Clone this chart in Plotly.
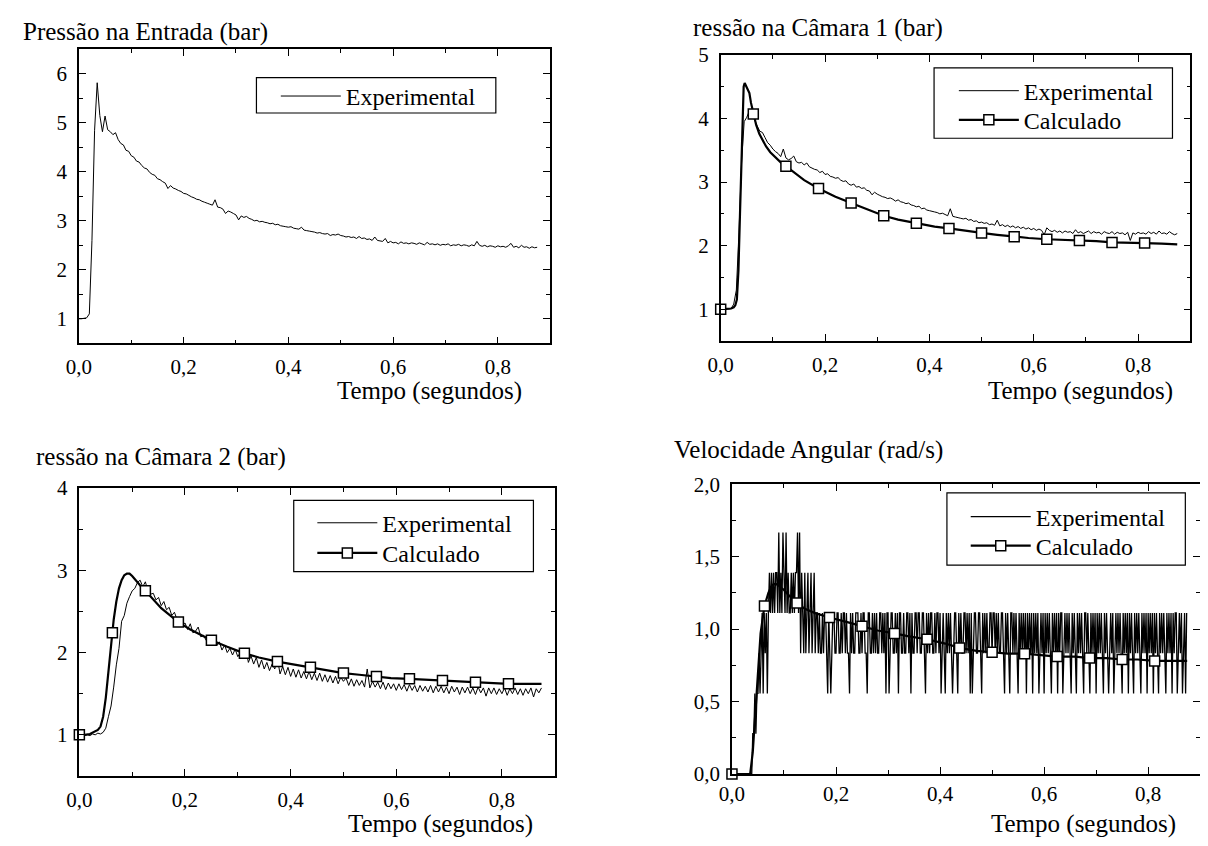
import numpy as np
import plotly.graph_objects as go

W, H = 1208, 846
OFFX, OFFY = 12, 9  # the page margin shifts the figure on screen
FONT = '"Liberation Serif", "Times New Roman", serif'

# =========================
# DATA
# =========================
DT = 0.005        # pressure sampling step (s)
DT_VEL = 0.002    # velocity sampling step (s)
VEL_STEP = 0.2778 # encoder resolution (rad/s)

entrada_exp = [
    1.00, 1.00, 1.01, 1.02, 1.10, 2.60, 4.85, 5.82, 5.15, 4.82,
    5.14, 4.86, 4.82, 4.76, 4.80, 4.66, 4.58, 4.55, 4.44, 4.42,
    4.33, 4.30, 4.22, 4.20, 4.13, 4.08, 4.06, 3.99, 3.95, 3.93,
    3.86, 3.84, 3.80, 3.77, 3.66, 3.72, 3.67, 3.65, 3.62, 3.60,
    3.56, 3.55, 3.52, 3.49, 3.47, 3.44, 3.43, 3.40, 3.38, 3.36,
    3.34, 3.32, 3.43, 3.28, 3.27, 3.24, 3.15, 3.20, 3.18, 3.15,
    3.12, 3.02, 3.10, 3.07, 3.09, 3.05, 3.03, 3.00, 3.01, 2.98,
    2.99, 2.97, 2.96, 2.94, 2.95, 2.92, 2.93, 2.90, 2.89, 2.88,
    2.87, 2.88, 2.85, 2.84, 2.83, 2.87, 2.81, 2.80, 2.79, 2.78,
    2.77, 2.75, 2.76, 2.74, 2.73, 2.74, 2.70, 2.72, 2.71, 2.73,
    2.70, 2.69, 2.67, 2.68, 2.66, 2.67, 2.64, 2.68, 2.64, 2.65,
    2.62, 2.63, 2.60, 2.67, 2.60, 2.59, 2.58, 2.64, 2.55, 2.58,
    2.55, 2.56, 2.53, 2.57, 2.54, 2.55, 2.53, 2.55, 2.54, 2.52,
    2.55, 2.53, 2.51, 2.56, 2.52, 2.53, 2.51, 2.53, 2.50, 2.52,
    2.51, 2.53, 2.49, 2.51, 2.50, 2.52, 2.49, 2.51, 2.50, 2.48,
    2.51, 2.49, 2.58, 2.50, 2.48, 2.50, 2.47, 2.49, 2.48, 2.46,
    2.49, 2.47, 2.48, 2.46, 2.49, 2.54, 2.46, 2.48, 2.45, 2.50,
    2.46, 2.47, 2.44, 2.47, 2.45, 2.46,
]

camara1_exp = [
    1.00, 0.99, 1.00, 1.00, 1.01, 1.08, 1.30, 2.20, 3.30, 3.95,
    4.02, 4.12, 4.08, 3.98, 3.88, 3.80, 3.78, 3.70, 3.62, 3.58,
    3.52, 3.48, 3.45, 3.40, 3.52, 3.38, 3.35, 3.37, 3.41, 3.32,
    3.30, 3.31, 3.27, 3.30, 3.24, 3.22, 3.20, 3.19, 3.15, 3.17,
    3.12, 3.13, 3.09, 3.08, 3.06, 3.07, 3.03, 3.01, 3.02, 2.97,
    2.95, 2.97, 2.92, 2.93, 2.90, 2.91, 2.87, 2.86, 2.80, 2.84,
    2.81, 2.79, 2.77, 2.76, 2.74, 2.75, 2.73, 2.70, 2.72, 2.69,
    2.68, 2.66, 2.67, 2.64, 2.63, 2.61, 2.62, 2.58, 2.59, 2.56,
    2.55, 2.54, 2.53, 2.52, 2.50, 2.51, 2.49, 2.47, 2.58, 2.46,
    2.45, 2.44, 2.43, 2.42, 2.43, 2.40, 2.41, 2.38, 2.39, 2.36,
    2.37, 2.35, 2.36, 2.33, 2.34, 2.32, 2.40, 2.31, 2.33, 2.30,
    2.32, 2.29, 2.31, 2.28, 2.30, 2.27, 2.29, 2.26, 2.28, 2.25,
    2.27, 2.24, 2.26, 2.24, 2.17, 2.28, 2.24, 2.22, 2.24, 2.21,
    2.23, 2.20, 2.23, 2.21, 2.22, 2.19, 2.25, 2.20, 2.22, 2.19,
    2.21, 2.23, 2.19, 2.22, 2.20, 2.21, 2.18, 2.22, 2.20, 2.19,
    2.22, 2.18, 2.21, 2.19, 2.20, 2.17, 2.21, 2.08, 2.20, 2.18,
    2.21, 2.19, 2.20, 2.18, 2.22, 2.19, 2.21, 2.18, 2.23, 2.19,
    2.20, 2.18, 2.22, 2.19, 2.17, 2.19,
]

camara1_calc_t = [
    0, 0.01, 0.02, 0.025, 0.028, 0.031, 0.034, 0.037, 0.04, 0.042,
    0.044, 0.046, 0.048, 0.05, 0.052, 0.055, 0.058, 0.0625, 0.068, 0.074,
    0.08, 0.087, 0.095, 0.105, 0.115, 0.125, 0.14, 0.16, 0.1875, 0.22,
    0.25, 0.28, 0.3125, 0.34, 0.375, 0.41, 0.4375, 0.47, 0.5, 0.53,
    0.5625, 0.59, 0.625, 0.66, 0.6875, 0.72, 0.75, 0.78, 0.8125, 0.845,
    0.875,
]
camara1_calc = [
    1.00, 1.00, 1.01, 1.03, 1.06, 1.15, 1.60, 2.50, 3.40, 4.00,
    4.50, 4.56, 4.52, 4.48, 4.46, 4.40, 4.25, 4.07, 3.90, 3.76,
    3.66, 3.56, 3.47, 3.39, 3.31, 3.25, 3.15, 3.03, 2.90, 2.77,
    2.67, 2.57, 2.47, 2.41, 2.35, 2.30, 2.27, 2.23, 2.20, 2.17,
    2.14, 2.12, 2.10, 2.09, 2.08, 2.07, 2.05, 2.05, 2.04, 2.03,
    2.02,
]

camara2_exp = [
    1.00, 0.98, 0.99, 1.00, 0.99, 1.01, 1.00, 1.02, 1.01, 1.03,
    1.08, 1.22, 1.35, 1.58, 1.85, 2.05, 2.38, 2.45, 2.60, 2.68,
    2.75, 2.78, 2.85, 2.88, 2.80, 2.86, 2.74, 2.71, 2.72, 2.64,
    2.67, 2.57, 2.62, 2.52, 2.55, 2.45, 2.49, 2.40, 2.42, 2.33,
    2.36, 2.28, 2.35, 2.24, 2.26, 2.31, 2.19, 2.21, 2.15, 2.20,
    2.11, 2.14, 2.08, 2.13, 2.03, 2.09, 2.00, 2.05, 1.97, 2.04,
    1.95, 2.00, 1.93, 2.05, 1.88, 1.96, 1.86, 1.94, 1.82, 1.91,
    1.80, 1.88, 1.78, 1.86, 1.80, 1.93, 1.74, 1.83, 1.73, 1.82,
    1.71, 1.80, 1.70, 1.79, 1.69, 1.77, 1.68, 1.77, 1.67, 1.75,
    1.66, 1.75, 1.65, 1.73, 1.64, 1.72, 1.63, 1.71, 1.62, 1.70,
    1.65, 1.69, 1.60, 1.68, 1.59, 1.67, 1.60, 1.66, 1.58, 1.80,
    1.57, 1.65, 1.58, 1.64, 1.56, 1.64, 1.55, 1.63, 1.56, 1.62,
    1.54, 1.62, 1.55, 1.61, 1.53, 1.61, 1.54, 1.60, 1.52, 1.60,
    1.53, 1.59, 1.52, 1.60, 1.51, 1.59, 1.52, 1.59, 1.51, 1.58,
    1.50, 1.59, 1.52, 1.58, 1.49, 1.58, 1.51, 1.58, 1.50, 1.57,
    1.49, 1.58, 1.51, 1.57, 1.47, 1.57, 1.50, 1.57, 1.49, 1.56,
    1.50, 1.57, 1.48, 1.56, 1.50, 1.57, 1.49, 1.56, 1.48, 1.56,
    1.50, 1.57, 1.46, 1.56, 1.51, 1.57,
]

camara2_calc_t = [
    0, 0.01, 0.02, 0.03, 0.035, 0.04, 0.045, 0.05, 0.055, 0.06,
    0.0625, 0.065, 0.07, 0.075, 0.08, 0.085, 0.09, 0.095, 0.1, 0.105,
    0.11, 0.115, 0.12, 0.125, 0.14, 0.155, 0.17, 0.1875, 0.21, 0.23,
    0.25, 0.28, 0.3125, 0.34, 0.375, 0.41, 0.4375, 0.47, 0.5, 0.53,
    0.5625, 0.59, 0.625, 0.66, 0.6875, 0.72, 0.75, 0.78, 0.8125, 0.845,
    0.875,
]
camara2_calc = [
    1.00, 1.00, 1.01, 1.05, 1.06, 1.10, 1.22, 1.45, 1.77, 2.10,
    2.24, 2.40, 2.62, 2.78, 2.88, 2.94, 2.96, 2.96, 2.93, 2.89,
    2.85, 2.81, 2.78, 2.75, 2.64, 2.54, 2.46, 2.37, 2.28, 2.21,
    2.15, 2.07, 1.99, 1.94, 1.89, 1.85, 1.82, 1.78, 1.75, 1.73,
    1.71, 1.69, 1.68, 1.67, 1.66, 1.65, 1.64, 1.63, 1.62, 1.62,
    1.62,
]

# quantised encoder readings, one digit per sample (value = digit * VEL_STEP)
vel_levels = [
    "00000000000000000000112122323424342454545455464546",
    "54645445454556463543534534534534434334344324323443",
    "34433434434332434334443343443324433434343344343424",
    "42344334342443343344342433443443344324343443343443",
    "42343243434323443243433443434242344334432434343344",
    "34434343344324343244343432434343424343424343423434",
    "24343432434342434423434343243432434343244343243434",
    "24343432434323434234343432434342434324343432434342",
    "43434243432434343243434243442343423424",
]

vel_calc_t = [
    0, 0.02, 0.035, 0.04, 0.045, 0.05, 0.055, 0.0625, 0.07, 0.075,
    0.08, 0.085, 0.09, 0.1, 0.11, 0.125, 0.14, 0.16, 0.1875, 0.22,
    0.25, 0.28, 0.3125, 0.34, 0.375, 0.41, 0.4375, 0.47, 0.5, 0.53,
    0.5625, 0.59, 0.625, 0.66, 0.6875, 0.72, 0.75, 0.78, 0.8125, 0.845,
    0.875,
]
vel_calc = [
    0.00, 0.00, 0.00, 0.15, 0.42, 0.72, 0.97, 1.16, 1.25, 1.29,
    1.31, 1.31, 1.30, 1.27, 1.23, 1.18, 1.14, 1.11, 1.08, 1.05,
    1.02, 0.99, 0.97, 0.95, 0.93, 0.90, 0.87, 0.85, 0.84, 0.83,
    0.83, 0.82, 0.81, 0.81, 0.80, 0.80, 0.79, 0.79, 0.78, 0.78,
    0.78,
]


# =========================
# HELPERS
# =========================
def px_x(p):
    return (p - OFFX) / W


def px_y(p):
    return 1 - (p - OFFY) / H


def marker_points(ts):
    # a square every 1/16 s on the computed curve
    idx = []
    for i, t in enumerate(ts):
        k = t / 0.0625
        if t < 0.85 and abs(k - round(k)) < 1e-9:
            idx.append(i)
    return idx


def exp_trace(t, y, xa, ya, leg, width=1.0):
    return go.Scatter(x=t, y=y, mode="lines", name="Experimental",
                      line=dict(color="black", width=width, simplify=False),
                      xaxis=xa, yaxis=ya, legend=leg, cliponaxis=False)


def calc_trace(t, y, xa, ya, leg):
    return go.Scatter(x=t, y=y, mode="lines+markers", name="Calculado",
                      line=dict(color="black", width=2.2),
                      marker=dict(symbol="square", size=10, color="white",
                                  line=dict(color="black", width=1.5)),
                      selectedpoints=marker_points(t),
                      selected=dict(marker=dict(opacity=1)),
                      unselected=dict(marker=dict(opacity=0)),
                      xaxis=xa, yaxis=ya, legend=leg, cliponaxis=False)


def axis(domain, rng, dtick, minor, fmt, standoff, anchor):
    return dict(domain=domain, range=rng, dtick=dtick, tick0=0, tickformat=fmt,
                ticks="inside", ticklen=7, tickwidth=1.3, tickcolor="black",
                showline=True, linecolor="black", linewidth=1.5, mirror="allticks",
                showgrid=False, zeroline=False, anchor=anchor,
                ticklabelstandoff=standoff,
                minor=dict(dtick=minor, tick0=0, ticks="inside", ticklen=4,
                           tickwidth=1.2, tickcolor="black", showgrid=False),
                tickfont=dict(family=FONT, size=21, color="black"))


def legend_at(line_x, center_y):
    return dict(x=px_x(line_x - 5), y=px_y(center_y - 22), xanchor="left", yanchor="top",
                bgcolor="rgba(0,0,0,0)", borderwidth=0, itemwidth=60,
                font=dict(family=FONT, size=24, color="black"))


# =========================
# FIGURE
# =========================
t_p = list(np.arange(len(entrada_exp)) * DT)
vel_exp = [int(c) * VEL_STEP for c in "".join(vel_levels)]
t_v = list(np.arange(len(vel_exp)) * DT_VEL)

fig = go.Figure()

fig.add_trace(exp_trace(t_p, entrada_exp, "x", "y", "legend"))

fig.add_trace(exp_trace(t_p, camara1_exp, "x2", "y2", "legend2"))
fig.add_trace(calc_trace(camara1_calc_t, camara1_calc, "x2", "y2", "legend3"))

fig.add_trace(exp_trace(t_p, camara2_exp, "x3", "y3", "legend4"))
fig.add_trace(calc_trace(camara2_calc_t, camara2_calc, "x3", "y3", "legend5"))

fig.add_trace(exp_trace(t_v, vel_exp, "x4", "y4", "legend6", width=1.3))
fig.add_trace(calc_trace(vel_calc_t, vel_calc, "x4", "y4", "legend7"))

# panel boxes in screen pixels: left, right, top, bottom
boxes = {
    1: (70.5, 547, 39.3, 341.7),
    2: (719.3, 1194, 45, 339.3),
    3: (71, 551.5, 490.7, 787),
    4: (730.7, 1204, 486.7, 785),
}
yranges = {1: [0.5, 6.5], 2: [0.5, 5], 3: [0.5, 4], 4: [0, 2]}
ydticks = {1: (1, 0.5, ""), 2: (1, 0.5, ""), 3: (1, 0.5, ""), 4: (0.5, 0.25, ".1f")}
xstand = {1: 4, 2: 4, 3: 4, 4: 0}

layout = {}
for k, (l, r, t, b) in boxes.items():
    sfx = "" if k == 1 else str(k)
    dt, mn, fmt = ydticks[k]
    layout["xaxis" + sfx] = axis([px_x(l), px_x(r)], [0, 0.9], 0.2, 0.1, ".1f",
                                 xstand[k], "y" + sfx)
    layout["yaxis" + sfx] = axis([px_y(b), px_y(t)], yranges[k], dt, mn, fmt,
                                 6, "x" + sfx)

fig.update_layout(**layout)

# one legend per entry so each line sits where the reference has it
fig.update_layout(
    legend=legend_at(274.6, 86.5),
    legend2=legend_at(960, 81),
    legend3=legend_at(960, 111),
    legend4=legend_at(311.5, 525.7),
    legend5=legend_at(311.5, 556.7),
    legend6=legend_at(972, 519.3),
    legend7=legend_at(972, 549.3),
)

frames = [(250, 492, 68.3, 104.7), (935, 1176, 58.3, 130.7),
          (287.7, 530, 503.3, 576.7), (948, 1189, 495.7, 570)]
for l, r, t, b in frames:
    fig.add_shape(type="rect", xref="paper", yref="paper",
                  x0=px_x(l), x1=px_x(r), y0=px_y(b), y1=px_y(t),
                  line=dict(color="black", width=1.2))

titles = [
    ("Pressão na Entrada (bar)", 12, 21),
    ("ressão na Câmara 1 (bar)", 689, 17),
    ("ressão na Câmara 2 (bar)", 25, 459),
    ("Velocidade Angular (rad/s)", 670, 452),
]
for txt, x, y in titles:
    fig.add_annotation(text=txt, x=px_x(x), y=px_y(y), xref="paper", yref="paper",
                       xanchor="left", yanchor="middle", showarrow=False,
                       font=dict(family=FONT, size=25, color="black"))

for x, y in [(425, 391), (1083, 391), (436, 836), (1086, 836)]:
    fig.add_annotation(text="Tempo (segundos)", x=px_x(x), y=px_y(y),
                       xref="paper", yref="paper", xanchor="center", yanchor="middle",
                       showarrow=False, font=dict(family=FONT, size=25, color="black"))

fig.update_layout(
    width=W, height=H,
    margin=dict(l=0, r=0, t=0, b=0),
    paper_bgcolor="white", plot_bgcolor="white",
    separators=",.",
    showlegend=True,
    font=dict(family=FONT, color="black"),
)

fig.write_html("out.html")
